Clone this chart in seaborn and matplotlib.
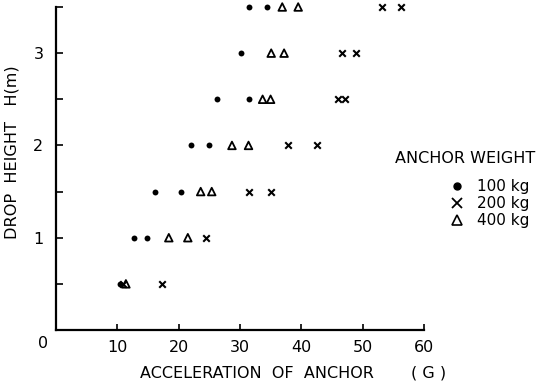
import matplotlib
matplotlib.use("Agg")
import matplotlib.pyplot as plt
import seaborn as sns
import pandas as pd
from matplotlib.lines import Line2D

# ---- data ----
h100 = [0.5, 1, 1, 1.5, 1.5, 2, 2, 2.5, 2.5, 3, 3.5, 3.5]
g100 = [10.4, 12.8, 14.9, 16.2, 20.4, 22.1, 25.0, 26.3, 31.4, 30.2, 31.5, 34.4]

h200 = [0.5, 0.5, 1, 1.5, 1.5, 2, 2, 2.5, 2.5, 3, 3, 3.5, 3.5]
g200 = [10.9, 17.3, 24.5, 31.4, 35.1, 37.8, 42.5, 46.0, 47.1, 46.6, 48.9, 53.1, 56.2]

h400 = [0.5, 1, 1, 1.5, 1.5, 2, 2, 2.5, 2.5, 3, 3, 3.5, 3.5]
g400 = [11.4, 18.4, 21.5, 23.6, 25.4, 28.7, 31.4, 33.7, 35.0, 35.1, 37.2, 36.9, 39.5]

xticks = [10, 20, 30, 40, 50, 60]
yticks = [1, 2, 3]
yminor = [0.5, 1.5, 2.5, 3.5]
legend_title = "ANCHOR WEIGHT"
legend_labels = ["100 kg", "200 kg", "400 kg"]

sns.set_theme(style="ticks")
plt.rcParams['font.family'] = ['DejaVu Sans']
plt.rcParams['text.color'] = 'black'
plt.rcParams['xtick.color'] = 'black'
plt.rcParams['ytick.color'] = 'black'

fig = plt.figure(figsize=(5.41, 3.89), dpi=100)
ax = fig.add_axes([0.1035, 0.1517, 0.68, 0.8303])

df100 = pd.DataFrame({"g": g100, "h": h100})
df200 = pd.DataFrame({"g": g200, "h": h200})
df400 = pd.DataFrame({"g": g400, "h": h400})

sns.scatterplot(data=df100, x="g", y="h", ax=ax, marker="o", s=18,
                color="black", edgecolor="black", linewidth=0, clip_on=False, zorder=3)
sns.scatterplot(data=df200, x="g", y="h", ax=ax, marker="x", s=22,
                color="black", linewidth=1.5, clip_on=False, zorder=3)
sns.scatterplot(data=df400, x="g", y="h", ax=ax, marker="^", s=30,
                facecolor="none", edgecolor="black", linewidth=1.3, clip_on=False, zorder=3)

ax.set_xlim(0, 60)
ax.set_ylim(0, 3.5)
ax.set_xticks(xticks)
ax.set_xticklabels([str(t) for t in xticks])
ax.set_yticks(yticks)
ax.set_yticklabels([str(t) for t in yticks])
ax.set_yticks(yminor, minor=True)
ax.tick_params(axis="both", which="both", direction="in", color="black",
               width=1.2, labelsize=11.5, labelcolor="black")
ax.tick_params(axis="x", which="major", length=4, pad=7)
ax.tick_params(axis="y", which="major", length=5, pad=9)
ax.tick_params(axis="y", which="minor", length=5)
ax.set_xlabel("")
ax.set_ylabel("")
for s in ["top", "right"]:
    ax.spines[s].set_visible(False)
for s in ["left", "bottom"]:
    ax.spines[s].set_color("black")
    ax.spines[s].set_linewidth(1.6)
ax.set_facecolor("white")

# origin label
fig.text(43 / 541, 1 - 344 / 389, "0", ha="center", va="center", fontsize=11.5)

# axis titles
fig.text(140 / 541, 1 - 373 / 389, "ACCELERATION  OF  ANCHOR", ha="left", va="center", fontsize=11.5)
fig.text(429 / 541, 1 - 373 / 389, "( G )", ha="center", va="center", fontsize=11.5)
fig.text(12 / 541, 1 - 152 / 389, "DROP  HEIGHT   H(m)", ha="center", va="center",
         rotation=90, fontsize=11.6)

# legend (drawn manually)
fig.text(395 / 541, 1 - 159 / 389, legend_title, ha="left", va="center", fontsize=11.5)
mk = [dict(marker="o", markersize=5, markerfacecolor="black", markeredgecolor="black"),
      dict(marker="x", markersize=6.5, markeredgewidth=1.3, color="black"),
      dict(marker="^", markersize=7, markerfacecolor="none", markeredgecolor="black",
           markeredgewidth=1.2)]
rows_y = [186, 203, 220]
for lab, m, yy in zip(legend_labels, mk, rows_y):
    fig.add_artist(Line2D([457 / 541], [1 - yy / 389], transform=fig.transFigure,
                          linestyle="none", **m))
    fig.text(477 / 541, 1 - yy / 389, lab, ha="left", va="center", fontsize=11)

fig.savefig("out.png", dpi=100, facecolor="white")
